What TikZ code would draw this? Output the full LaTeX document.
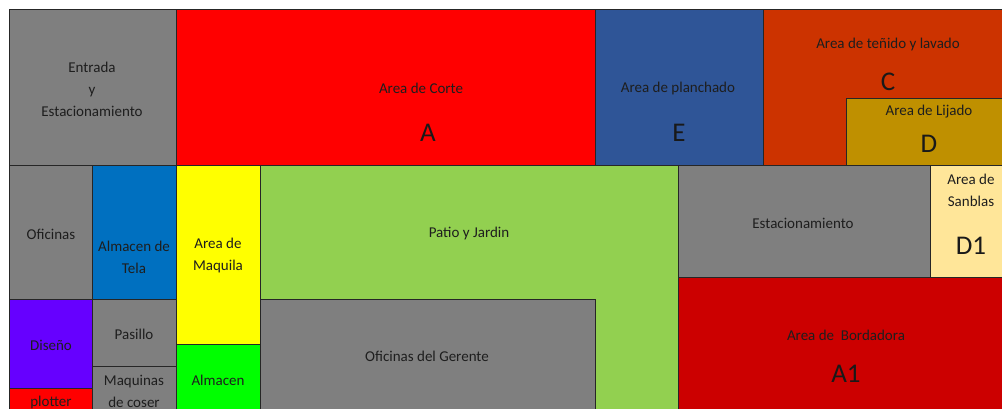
\documentclass[tikz,border=0pt]{standalone}
\usepackage{fontspec}
\setmainfont{Carlito}
\tikzstyle{plano} = [x = 1pt, y = -1pt]
\definecolor{grisColor}{RGB}{127,127,127}
\definecolor{corteColor}{RGB}{255,0,0}
\definecolor{planchaColor}{RGB}{47,85,151}
\definecolor{tenidoColor}{RGB}{204,51,0}
\definecolor{lijadoColor}{RGB}{191,144,0}
\definecolor{sanblasColor}{RGB}{255,230,153}
\definecolor{bordaColor}{RGB}{204,0,0}
\definecolor{patioColor}{RGB}{146,208,80}
\definecolor{maquilaColor}{RGB}{255,255,0}
\definecolor{almacenColor}{RGB}{0,255,0}
\definecolor{telaColor}{RGB}{0,112,192}
\definecolor{disenoColor}{RGB}{102,0,255}
\definecolor{lineColor}{RGB}{38,38,38}
\definecolor{textColor}{RGB}{30,30,30}
\tikzstyle{roomStyle} = [draw=lineColor, line width=1pt]
\tikzstyle{roomText} = [text=textColor, align=center, inner sep=0pt, font=\fontsize{15}{22}\selectfont]
\tikzstyle{letterText} = [text=black!90, inner sep=0pt, font=\fontsize{27}{30}\selectfont]
\newcommand{\room}[5]{\filldraw [roomStyle, fill=#5] (#1,#2) rectangle (#3,#4);}

\begin{document}
\begin{tikzpicture}[plano]
        \useasboundingbox (0,0) rectangle (1002,409);
        % fila de arriba
        \room{9}{10}{176}{166}{grisColor}
        \room{176}{10}{595}{166}{corteColor}
        \room{595}{10}{763}{166}{planchaColor}
        \room{763}{10}{1002}{166}{tenidoColor}
        \room{846}{99}{1002}{166}{lijadoColor}
        % columna izquierda
        \room{9}{166}{92}{299}{grisColor}
        \room{92}{166}{176}{299}{telaColor}
        \room{9}{299}{92}{388}{disenoColor}
        \room{9}{388}{92}{409}{corteColor}
        \room{92}{299}{176}{366}{grisColor}
        \room{92}{366}{176}{409}{grisColor}
        \room{176}{166}{260}{344}{maquilaColor}
        \room{176}{344}{260}{409}{almacenColor}
        % centro
        \room{260}{166}{678}{409}{patioColor}
        \room{260}{299}{595}{409}{grisColor}
        % lado derecho
        \room{678}{166}{930}{277}{grisColor}
        \room{930}{166}{1002}{277}{sanblasColor}
        \room{678}{277}{1002}{409}{bordaColor}

        \node [roomText] (entrada) at (92,89) {Entrada\\y\\Estacionamiento};
        \node [roomText] (corte) at (421,88) {Area de Corte};
        \node [letterText] (corteA) at (428,133) {A};
        \node [roomText] (plancha) at (678,89) {Area de planchado};
        \node [letterText] (planchaE) at (679,133) {E};
        \node [roomText] (tenido) at (888,45) {Area de teñido y lavado};
        \node [letterText] (tenidoC) at (888,82) {C};
        \node [roomText] (lijado) at (929,112) {Area de Lijado};
        \node [letterText] (lijadoD) at (929,144) {D};
        \node [roomText] (oficinas) at (51,234) {Oficinas};
        \node [roomText] (tela) at (134,257) {Almacen de\\Tela};
        \node [roomText] (maquila) at (218,256) {Area de\\Maquila};
        \node [roomText] (patio) at (469,234) {Patio y Jardin};
        \node [roomText] (gerente) at (427,356) {Oficinas del Gerente};
        \node [roomText] (diseno) at (51,345) {Diseño};
        \node [roomText] (pasillo) at (134,334) {Pasillo};
        \node [roomText] (maquinas) at (134,391) {Maquinas\\de coser};
        \node [roomText] (plotter) at (51,402) {plotter};
        \node [roomText] (almacen) at (218,380) {Almacen};
        \node [roomText] (estac) at (803,223) {Estacionamiento};
        \node [roomText] (sanblas) at (971,190) {Area de\\Sanblas};
        \node [letterText] (sanblasD) at (971,246) {D1};
        \node [roomText] (borda) at (846,335) {Area de\ \ Bordadora};
        \node [letterText] (bordaA) at (846,374) {A1};
      \end{tikzpicture}
\end{document}
